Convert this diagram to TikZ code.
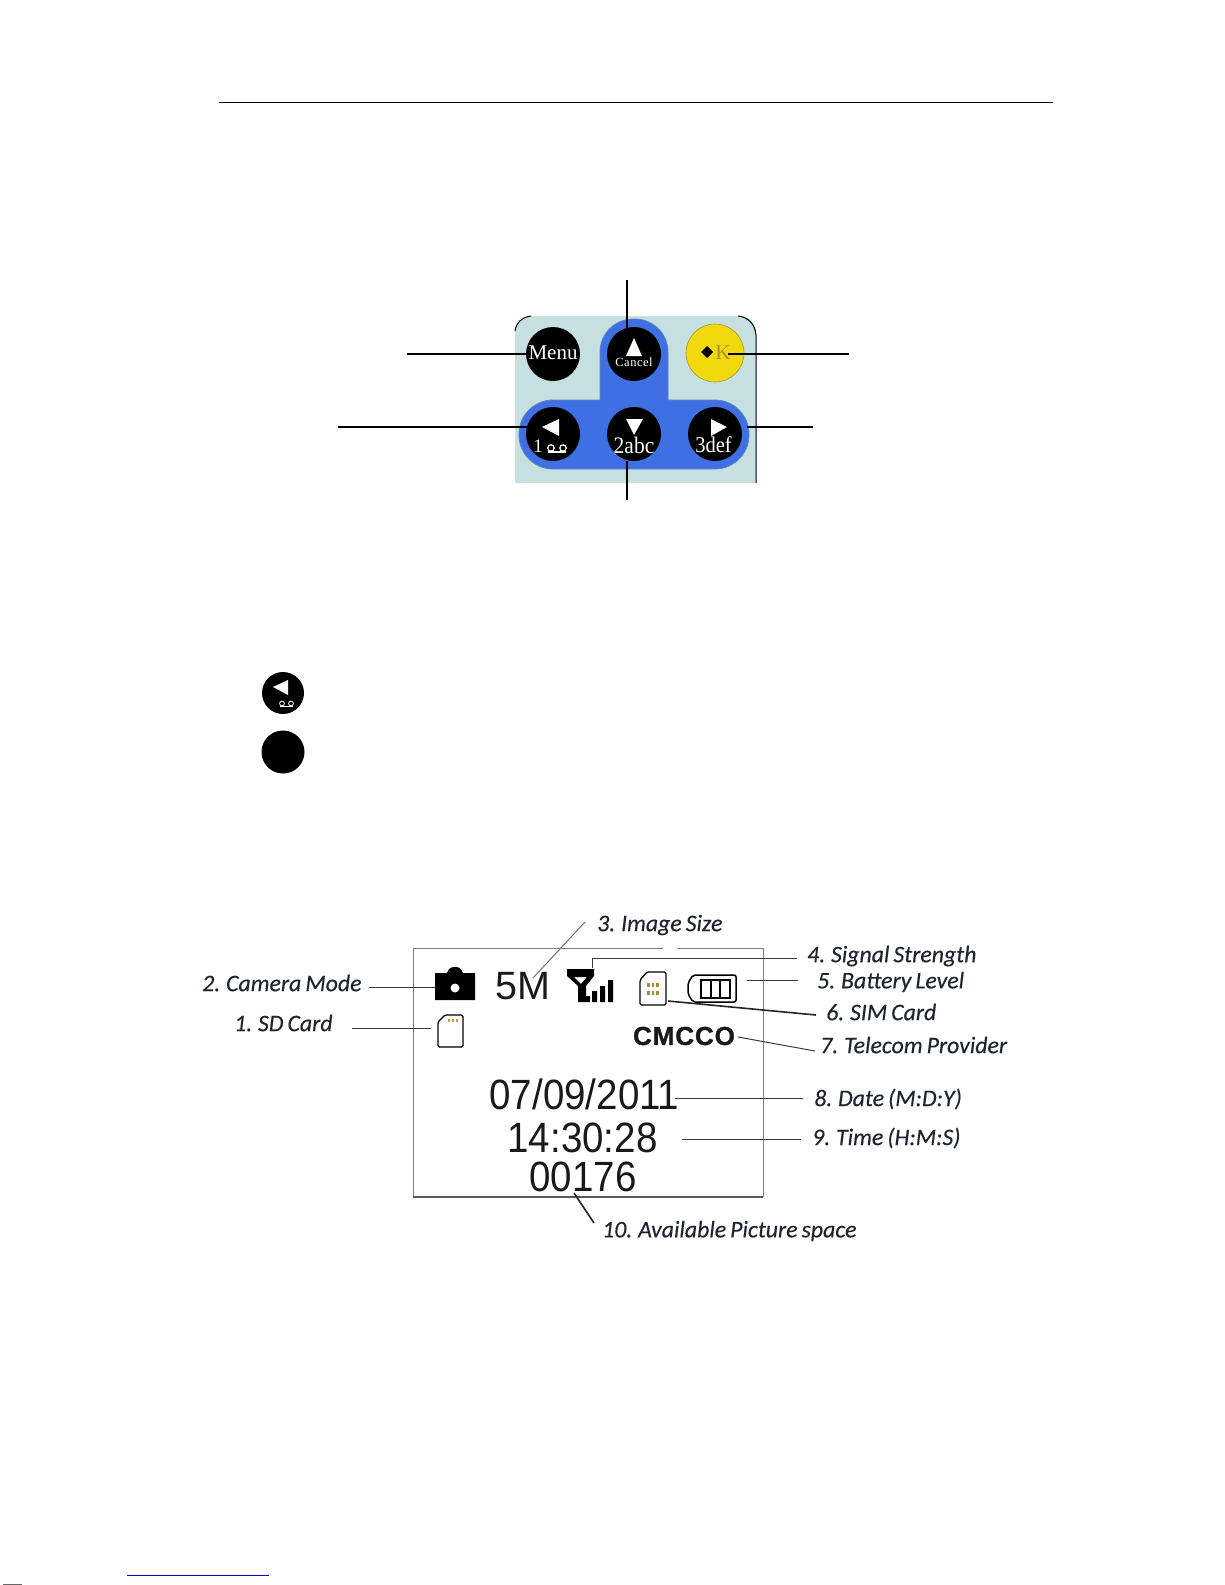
\documentclass[tikz,border=0pt]{standalone}
\usepackage{fontspec}
\setmainfont{Liberation Sans}
\newfontfamily\calib[WordSpace=0.75,FakeBold=0.25]{Carlito}
\newfontfamily\serifb{Liberation Serif}
\definecolor{panelc}{HTML}{C6DFE0}
\definecolor{bluec}{HTML}{3E6FE3}
\definecolor{blueedge}{HTML}{5F84C4}
\definecolor{yellowc}{HTML}{F2D90F}
\definecolor{olivec}{HTML}{A8962A}
\definecolor{goldc}{HTML}{C9A030}
\definecolor{lcdline}{HTML}{7F7F7F}
\definecolor{leadc}{HTML}{3A3A3A}
\definecolor{labelc}{HTML}{1E2430}
\tikzset{
  keybtn/.style={circle,fill=black,inner sep=0pt,minimum size=54pt,text=white},
  keyline/.style={draw=black,line width=1.4pt},
  lead/.style={draw=leadc,line width=1pt},
  leadbold/.style={draw=black!85,line width=1.6pt},
  lbl/.style={anchor=west,inner sep=0pt,text=labelc,font={\calib\itshape\fontsize{23.8}{26}\selectfont}},
  lcdtext/.style={inner sep=0pt,text=black!90,yscale=1.1,transform shape,font=\fontsize{38.5}{40}\selectfont},
  tri/.style={fill=white,draw=none},
  iconline/.style={draw=black,line width=1.3pt}
}
\begin{document}
\begin{tikzpicture}[x=1pt,y=-1pt]
\useasboundingbox (0,0) rectangle (1225,1585);
\fill[white] (0,0) rectangle (1225,1585);
% header rule
\coordinate (ruleL) at (219,102); \coordinate (ruleR) at (1053,102);
\draw[black,line width=1pt] (ruleL) -- (ruleR);
% keypad panel
\fill[panelc] (515,483) -- (515,333) .. controls (515,323) and (522,316) .. (532,316) -- (740,316) .. controls (749,316) and (756,323) .. (756,333) -- (756,483) -- cycle;
\draw[black,line width=1pt] (515,331) .. controls (516,323) and (522,317) .. (531,316);
\draw[black,line width=1pt] (738,316) .. controls (748,317) and (755,324) .. (756,335) -- (756,483);
% blue T
\fill[bluec,draw=blueedge,line width=.8pt,rounded corners=34] (519,400) rectangle (749,469);
\fill[bluec] (600,410) [rounded corners=33] -- (600,319) -- (668,319) [sharp corners] -- (668,410) -- cycle;
\draw[blueedge,line width=.8pt] (600,400) [rounded corners=33] -- (600,319) -- (668,319) [sharp corners] -- (668,400);
% buttons
\node[keybtn] (menu) at (553,354) {};
\node[keybtn] (cancel) at (634,354) {};
\node[circle,fill=yellowc,draw=olivec,line width=.6pt,inner sep=0pt,minimum size=58pt] (ok) at (715,353) {};
\node[keybtn] (left) at (553,434) {};
\node[keybtn] (down) at (634,434) {};
\node[keybtn] (right) at (715,434) {};
\node[inner sep=0pt,text=white,font=\serifb\fontsize{21}{21}\selectfont] (menut) at (553,353) {Menu};
\fill[tri] (634,338) -- (626,356) -- (642,356) -- cycle;
\node[inner sep=0pt,text=white,font=\serifb\fontsize{12.5}{13}\selectfont] (cancelt) at (634,362) {\addfontfeature{LetterSpace=4}Cancel};
\fill[black] (707,346) -- (713,352) -- (707,358) -- (701,352) -- cycle;
\node[inner sep=0pt,text=olivec,font=\serifb\fontsize{21}{21}\selectfont] (okt) at (723,353) {K};
\fill[tri] (542,427) -- (559,419) -- (559,436) -- cycle;
\node[inner sep=0pt,text=white,font=\serifb\fontsize{19}{19}\selectfont] (lefta) at (538,446) {1};
\draw[white,line width=1.2pt] (551,448) circle (3.2) (563,448) circle (3.2);
\draw[white,line width=1.2pt] (548,452) -- (566,452);
\fill[tri] (626,419) -- (643,419) -- (634,435) -- cycle;
\node[inner sep=0pt,text=white,yscale=1.1,transform shape,font=\serifb\fontsize{21.5}{21}\selectfont] (downt) at (634,445) {2abc};
\fill[tri] (711,419) -- (727,427) -- (711,436) -- cycle;
\node[inner sep=0pt,text=white,yscale=1.1,transform shape,font=\serifb\fontsize{20.5}{21}\selectfont] (rightt) at (713.5,445) {3def};
% key leaders
\coordinate (ktop) at (627,280); \coordinate (kbot) at (627,500);
\coordinate (kml) at (407,354); \coordinate (kll) at (338,427);
\coordinate (kol) at (849,354); \coordinate (kok) at (728,354);
\coordinate (krl) at (813,427); \coordinate (krr) at (747,427);
\coordinate (kcan) at (627,330); \coordinate (kdn) at (627,461);
\coordinate (klf) at (527,427);
\draw[keyline] (ktop) -- (kcan);
\draw[keyline] (kbot) -- (kdn);
\draw[keyline] (kml) -- (menu.west);
\draw[keyline] (kll) -- (klf);
\draw[keyline] (kol) -- (kok);
\draw[keyline] (krl) -- (krr);
% legend icons
\node[circle,fill=black,inner sep=0pt,minimum size=42pt] (iconA) at (283,693) {};
\node[circle,fill=black,inner sep=0pt,minimum size=43pt] (iconB) at (283,752) {};
\fill[tri] (273,687) -- (288,680) -- (288,695) -- cycle;
\draw[white,line width=.8pt] (282,703.5) circle (2.4) (291,703.5) circle (2.4);
\draw[white,line width=.8pt] (280,706.3) -- (293,706.3);
% LCD frame
\draw[lcdline,line width=1pt] (413,1197) -- (413,948) -- (663,948);
\draw[lcdline,line width=1pt] (677,948) -- (763,948) -- (763,1197);
\draw[black!65,line width=1.4pt] (413,1197) -- (763,1197);
% camera
\fill[black] (435,973) -- (447,973) .. controls (449,968) and (451,967) .. (455,967) .. controls (459,967) and (461,968) .. (463,973) -- (475,973) -- (475,1000) -- (435,1000) -- cycle;
\fill[white] (455,988) circle (4.5);
\coordinate (camR) at (435,987);
% 5M
\node[inner sep=0pt,text=black!90,font=\fontsize{39.5}{40}\selectfont] (fivem) at (523,986) {5M};
% signal
\fill[black,even odd rule] (567,969) -- (594,969) -- (594,976) -- (586,986) -- (586,1002) -- (578,1002) -- (578,986) -- (567,976) -- cycle
  (574,977) -- (587,977) -- (581,984) -- cycle;
\fill[black] (586,996) rectangle (590,1002) (592,991) rectangle (597,1002) (600,986) rectangle (605,1002) (608,980) rectangle (613,1002);
% SIM
\draw[iconline,fill=white,rounded corners=1.5pt] (647,972) -- (666,972) -- (666,1005) -- (640,1005) -- (640,980) -- cycle;
\foreach \gx in {648.5,653,657.5} \foreach \gy in {985,993} \fill[goldc!85!black] (\gx-1.3,\gy-1.6) rectangle (\gx+1.3,\gy+1.6);
% battery
\draw[iconline,line width=1.5pt,rounded corners=2pt] (693,975) -- (736,975) -- (736,1002) -- (693,1002) -- (688,994) -- (688,983) -- cycle;
\draw[black,line width=2.4pt] (701,980) rectangle (730,998) (711,980) -- (711,998) (720,980) -- (720,998);
% CMCCO
\node[inner sep=0pt,text=black!90,font=\bfseries\fontsize{26}{26}\selectfont] (cmcco) at (684,1036) {\addfontfeature{LetterSpace=3.5,FakeBold=1.2}CMCCO};
% SD
\draw[black,line width=1.3pt,fill=white,rounded corners=1.5pt] (445,1015) -- (463,1015) -- (463,1047) -- (438,1047) -- (438,1022) -- cycle;
\foreach \gx in {449,453,457} \fill[goldc] (\gx-1.2,1018.5) rectangle (\gx+1.2,1022);
% LCD numbers
\node[lcdtext] (datev) at (584.5,1094) {07/09/2011};
\node[lcdtext] (timev) at (582.5,1138) {14:30:28};
\node[lcdtext] (countv) at (583,1177) {00176};
% labels
\node[lbl] (l2) at (202,983) {2. Camera Mode};
\node[lbl] (l1) at (234,1023) {1. SD Card};
\node[lbl] (l3) at (597,925) {3. Image Size};
\node[lbl] (l4) at (807,956) {4. Signal Strength};
\node[lbl] (l5) at (817,982) {5. Battery Level};
\node[lbl] (l6) at (826,1012) {6. SIM Card};
\node[lbl] (l7) at (820,1045) {7. Telecom Provider};
\node[lbl] (l8) at (814,1099) {8. Date (M:D:Y)};
\node[lbl] (l9) at (812,1138) {9. Time (H:M:S)};
\node[lbl] (l10) at (602,1231) {10. Available Picture space};
% LCD leaders
\coordinate (a1) at (352,1028); \coordinate (b1) at (431,1028);
\coordinate (a2) at (369,987);
\coordinate (a3) at (585,922); \coordinate (b3) at (533,978);
\coordinate (a4) at (797,958); \coordinate (b4) at (592,968); \coordinate (c4) at (592,958);
\coordinate (a5) at (798,980); \coordinate (b5) at (747,980);
\coordinate (a6) at (816,1015); \coordinate (b6) at (668,1001);
\coordinate (a7) at (815,1051); \coordinate (b7) at (738,1037);
\coordinate (a8) at (803,1098); \coordinate (b8) at (675,1098);
\coordinate (a9) at (801,1139); \coordinate (b9) at (682,1139);
\coordinate (a10) at (594,1223); \coordinate (b10) at (574,1193);
\draw[lead] (a1) -- (b1);
\draw[lead] (a2) -- (camR);
\draw[lead,draw=black!55] (a3) -- (b3);
\draw[lead] (a4) -- (c4) -- (b4);
\draw[lead] (a5) -- (b5);
\draw[leadbold] (a6) -- (b6);
\draw[lead] (a7) -- (b7);
\draw[lead] (a8) -- (b8);
\draw[lead] (a9) -- (b9);
\draw[leadbold] (a10) -- (b10);
% page foot
\coordinate (linkL) at (127,1575.5); \coordinate (linkR) at (269,1575.5);
\draw[blue!80!black,line width=1pt] (linkL) -- (linkR);
\fill[black!60] (3,1584) rectangle (22,1585);
\end{tikzpicture}
\end{document}
